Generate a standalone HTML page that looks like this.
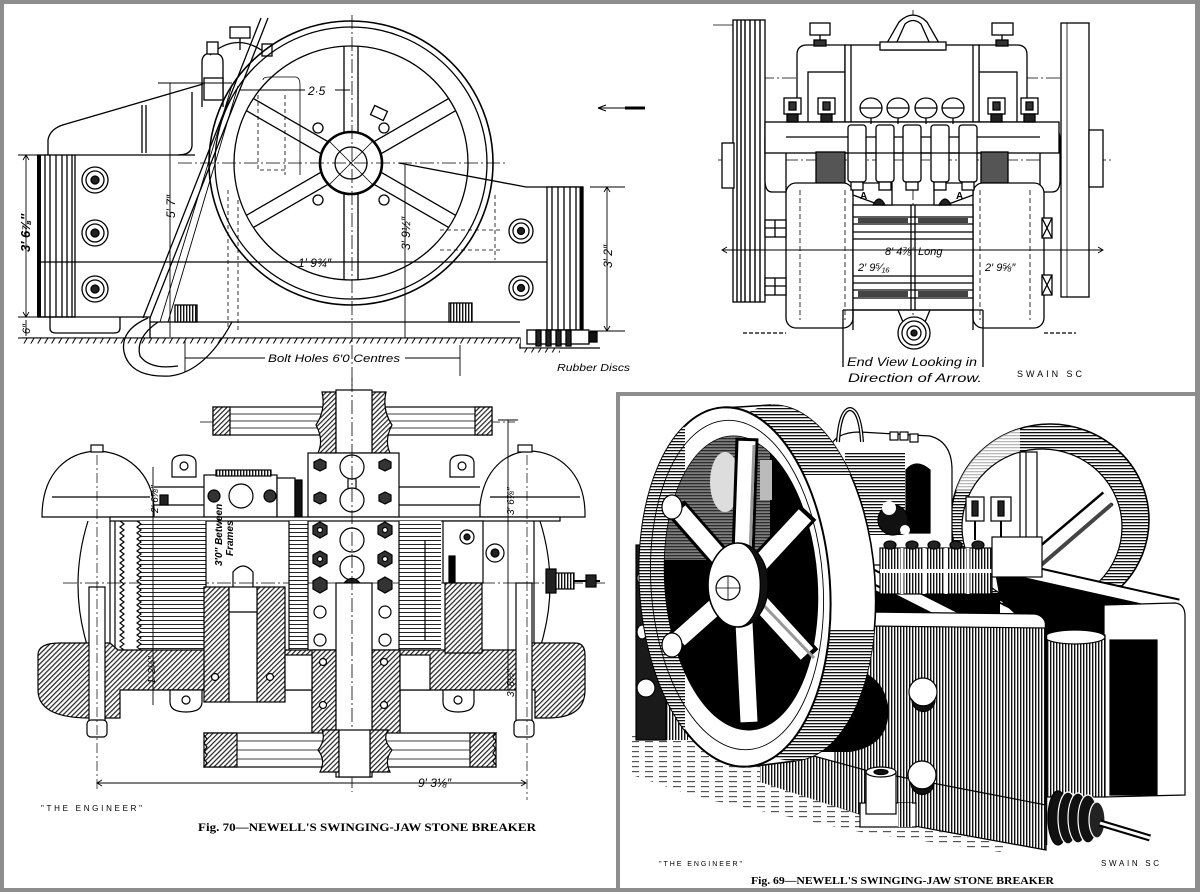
<!DOCTYPE html>
<html><head><meta charset="utf-8"><style>
html,body{margin:0;padding:0;background:#fff}
svg{display:block}
text{font-family:"Liberation Sans",sans-serif;fill:#000;stroke:none}
.it{font-style:italic}
.cap{font-family:"Liberation Serif",serif;font-weight:bold}
.cl{stroke-dasharray:14 3 2 3;stroke-width:0.8;fill:none}
</style></head><body>
<svg width="1200" height="892" viewBox="0 0 1200 892" xmlns="http://www.w3.org/2000/svg">
<defs>
<pattern id="hd" width="3.5" height="3.5" patternUnits="userSpaceOnUse" patternTransform="rotate(45)"><rect width="3.5" height="3.5" fill="#fff"/><rect width="1.2" height="3.5" fill="#222"/></pattern>
<pattern id="vl" width="3" height="10" patternUnits="userSpaceOnUse"><rect width="3" height="10" fill="#fff"/><rect width="1.4" height="10" fill="#111"/></pattern>
<pattern id="hl" width="10" height="3" patternUnits="userSpaceOnUse"><rect width="10" height="3" fill="#fff"/><rect width="10" height="1.3" fill="#111"/></pattern>
<pattern id="hl4" width="10" height="4" patternUnits="userSpaceOnUse"><rect width="10" height="4" fill="#fff"/><rect width="10" height="1" fill="#222"/></pattern>
<pattern id="gr" width="14" height="5" patternUnits="userSpaceOnUse"><rect width="14" height="5" fill="#fff"/><rect x="1" y="1" width="8" height="1.2" fill="#555"/></pattern>
<pattern id="gh" width="6" height="6" patternUnits="userSpaceOnUse" patternTransform="rotate(30)"><rect width="6" height="6" fill="#fff"/><rect width="1" height="6" fill="#000"/></pattern>
<clipPath id="backE"><ellipse cx="783" cy="583" rx="92" ry="178" transform="rotate(-4 783 583)"/></clipPath>
<clipPath id="frontE"><ellipse cx="735" cy="587" rx="95" ry="180" transform="rotate(-4 735 587)"/></clipPath>
<clipPath id="innerE"><ellipse cx="741" cy="583" rx="76" ry="147" transform="rotate(-4 741 583)"/></clipPath>
<clipPath id="backW"><ellipse cx="1050" cy="520" rx="99" ry="96"/></clipPath>
</defs>

<!-- frame / borders -->
<rect width="1200" height="892" fill="#8d8d8d"/>
<rect x="4" y="4" width="1191" height="884" fill="#fff"/>
<rect x="616" y="392" width="4" height="496" fill="#8d8d8d"/>
<rect x="616" y="392" width="580" height="4" fill="#8d8d8d"/>

<!-- ================= TOP LEFT: side elevation ================= -->
<g fill="none" stroke="#000" stroke-width="1.3">
  <rect x="38" y="155" width="37" height="162" fill="#fff"/>
  <path d="M39,155 V317" stroke-width="4"/>
  <path d="M45,155V317M50,155V317M56,155V317M62,155V317M67,155V317M72,155V317"/>
  <path d="M75,155 H195"/>
  <path d="M48,155 V140 Q50,128 66,124 L203,84"/>
  <path d="M192,92 V146 Q191,155 178,155"/>
  <path d="M142,105 V153 M146,105V153"/>
  <path d="M38,262 H583"/>
  <path d="M38,317 H150 V338"/>
  <path d="M150,322 H520"/>
  <path d="M399,163 L526,187 H583"/>
  <rect x="547" y="187" width="36" height="143" fill="#fff"/>
  <path d="M552,187V330M558,187V330M564,187V330M570,187V330M576,187V330"/>
  <path d="M581,187V330" stroke-width="3"/>
  <path d="M50,317 V328 Q50,333 56,333 H114 Q120,333 120,328 V317"/>
  <path d="M22,338 H520 V348 H600"/>
  <rect x="22" y="338.5" width="498" height="5" fill="url(#gh)" stroke="none"/>
  <rect x="520" y="348.5" width="40" height="4" fill="url(#gh)" stroke="none"/>
  <rect x="175" y="305" width="22" height="17" fill="url(#vl)"/>
  <rect x="449" y="303" width="23" height="19" fill="url(#vl)"/>
  <rect x="527" y="330" width="62" height="14" fill="#fff"/>
  <rect x="536" y="330" width="5" height="16" fill="#222"/>
  <rect x="546" y="330" width="5" height="16" fill="#222"/>
  <rect x="556" y="330" width="5" height="16" fill="#222"/>
  <rect x="566" y="330" width="5" height="16" fill="#222"/>
  <rect x="589" y="332" width="8" height="10" fill="#111"/>
  <g fill="#fff">
    <circle cx="95" cy="180" r="13"/><circle cx="95" cy="180" r="9"/><circle cx="95" cy="180" r="4" fill="#222"/>
    <circle cx="95" cy="233" r="13"/><circle cx="95" cy="233" r="9"/><circle cx="95" cy="233" r="4" fill="#222"/>
    <circle cx="95" cy="289" r="13"/><circle cx="95" cy="289" r="9"/><circle cx="95" cy="289" r="4" fill="#222"/>
    <circle cx="521" cy="231" r="12"/><circle cx="521" cy="231" r="8"/><circle cx="521" cy="231" r="3.5" fill="#222"/>
    <circle cx="521" cy="288" r="12"/><circle cx="521" cy="288" r="8"/><circle cx="521" cy="288" r="3.5" fill="#222"/>
  </g>
  <!-- top bearing -->
  <path d="M202,107 V62 Q202,53 212,53 Q223,53 223,62 V107"/>
  <rect x="204" y="78" width="19" height="22" fill="#fff"/>
  <path d="M210,55 Q238,30 268,55"/>
  <rect x="230" y="27" width="20" height="11" fill="#fff"/>
  <path d="M240,38 V50"/>
  <rect x="207" y="42" width="11" height="12" fill="#fff"/>
  <rect x="262" y="44" width="10" height="12" fill="#fff"/>
  <!-- lever -->
  <path d="M268,18 L150,318 M261,18 L143,318"/>
  <path d="M232,85 L160,322 M238,86 L168,322" stroke-width="0.9"/>
  <path d="M148,318 Q120,330 124,352 Q130,378 170,376 Q205,372 232,322"/>
  <path d="M158,322 Q135,338 140,356 Q150,370 178,366"/>
  <!-- flywheel -->
  <circle cx="351" cy="163" r="142" stroke-width="1.6"/>
  <circle cx="351" cy="163" r="136"/>
  <circle cx="351" cy="163" r="117"/>
  <g>
    <g transform="rotate(90 351 163)"><path d="M382,156H468M382,170H468"/></g>
    <g transform="rotate(270 351 163)"><path d="M382,156H468M382,170H468"/></g>
    <g transform="rotate(30 351 163)"><path d="M382,156H468M382,170H468"/></g>
    <g transform="rotate(150 351 163)"><path d="M382,156H468M382,170H468"/></g>
    <g transform="rotate(210 351 163)"><path d="M382,156H468M382,170H468"/></g>
    <g transform="rotate(330 351 163)"><path d="M382,156H468M382,170H468"/></g>
  </g>
  <circle cx="351" cy="163" r="31" stroke-width="2.6" fill="#fff"/>
  <circle cx="351" cy="163" r="16"/>
  <path d="M330,142 L372,184 M372,142 L330,184" stroke-width="0.8"/>
  <circle cx="318" cy="128" r="5" fill="#fff"/><circle cx="384" cy="128" r="5" fill="#fff"/>
  <circle cx="318" cy="200" r="5" fill="#fff"/><circle cx="384" cy="200" r="5" fill="#fff"/>
  <rect x="372" y="108" width="14" height="10" transform="rotate(25 379 113)" fill="#fff"/>
  <line class="cl" x1="352" y1="15" x2="352" y2="397"/>
  <line class="cl" x1="178" y1="163" x2="508" y2="163"/>
  <path d="M228,190V330M238,200V330M285,95V175M258,95V170H285" stroke-dasharray="4 3" stroke-width="0.8"/>
  <path d="M263,80 Q263,77 270,77 H295 Q300,77 300,85 V175" stroke-width="0.8"/>
  <path d="M440,230H500M440,250H500M495,195V260" stroke-dasharray="4 3" stroke-width="0.8"/>
  <path d="M18,155H42M18,317H42M18,338H30M26,155V317M26,320V336" stroke-width="0.9"/>
  <path d="M23,160L26,155L29,160M23,312L26,317L29,312" stroke-width="0.9"/>
  <path d="M590,187H625M590,331H625M607,187V331" stroke-width="0.9"/>
  <path d="M604,192L607,187L610,192M604,326L607,331L610,326" stroke-width="0.9"/>
  <path d="M158,83H232M170,83V337" stroke-width="0.9"/>
  <path d="M405,165V338" stroke-width="0.9"/>
  <path d="M185,340V372M460,345V376M185,358H265M405,358H460" stroke-width="0.9"/>
  <path d="M240,90H305M335,90H350" stroke-width="0.9"/>
  <path d="M598,108H645" stroke-width="1"/>
  <path d="M625,108H645" stroke-width="3"/>
  <path d="M598,108L606,105M598,108L606,111" stroke-width="1"/>
</g>
<g>
  <text x="308" y="95" font-size="12" class="it">2·5</text>
  <text transform="translate(175,218) rotate(-90)" font-size="12" class="it">5′ 7″</text>
  <text transform="translate(30,252) rotate(-90)" font-size="13" class="it" font-weight="bold">3′ 6⅞″</text>
  <text transform="translate(30,334) rotate(-90)" font-size="11" class="it">6″</text>
  <text transform="translate(410,250) rotate(-90)" font-size="12" class="it">3′ 9½″</text>
  <text x="298" y="267" font-size="12" class="it">1′ 9¾″</text>
  <text transform="translate(612,268) rotate(-90)" font-size="12" class="it">3′ 2″</text>
  <text x="268" y="362" font-size="11" class="it" textLength="132" lengthAdjust="spacingAndGlyphs">Bolt Holes 6′0 Centres</text>
  <text x="557" y="371" font-size="10" class="it" textLength="73" lengthAdjust="spacingAndGlyphs">Rubber Discs</text>
</g>

<!-- ================= TOP RIGHT: end view ================= -->
<g fill="#fff" stroke="#000" stroke-width="1.3">
  <line class="cl" x1="913" y1="10" x2="913" y2="345"/>
  <line class="cl" x1="718" y1="160" x2="1112" y2="160"/>
  <line class="cl" x1="760" y1="78" x2="1090" y2="78"/>
  <path d="M713,25H734" stroke-width="0.8"/>
  <rect x="733" y="20" width="32" height="282"/>
  <path d="M737,20V302M741,20V302M745,20V302M750,20V302M755,20V302M760,20V302" stroke-width="1.4" fill="none"/>
  <rect x="1061" y="23" width="28" height="274"/>
  <path d="M1067,23V297" fill="none" stroke-width="0.8"/>
  <rect x="722" y="143" width="12" height="45"/>
  <rect x="1089" y="130" width="14" height="57"/>
  <path d="M786,128 H772 Q765,128 765,140 V180 Q765,192 772,192 H786 Z"/>
  <path d="M1040,128 H1052 Q1060,128 1060,140 V180 Q1060,192 1052,192 H1040 Z"/>
  <path d="M797,122 V55 Q797,45 807,45 H845 V122 Z"/>
  <rect x="808" y="72" width="37" height="50"/>
  <path d="M1027,122 V55 Q1027,45 1017,45 H979 V122 Z"/>
  <rect x="979" y="72" width="38" height="50"/>
  <rect x="845" y="45" width="134" height="77"/>
  <path d="M851,45V122M973,45V122" fill="none"/>
  <path d="M883,50 L899,22 Q913,8 927,22 L943,50 Z"/>
  <path d="M896,44 L905,24 Q913,17 921,24 L930,44 Z"/>
  <rect x="880" y="42" width="66" height="8"/>
  <rect x="810" y="23" width="20" height="12"/><path d="M820,35V45" fill="none"/>
  <rect x="992" y="23" width="21" height="12"/><path d="M1002,35V45" fill="none"/>
  <rect x="814" y="40" width="12" height="6" fill="#333"/>
  <rect x="996" y="40" width="12" height="6" fill="#333"/>
  <rect x="765" y="122" width="294" height="31"/>
  <path d="M786,137H1040" fill="none"/>
  <rect x="816" y="152" width="29" height="31" fill="#555"/>
  <rect x="981" y="152" width="27" height="31" fill="#555"/>
  <rect x="786" y="183" width="67" height="145" rx="10"/>
  <rect x="973" y="183" width="71" height="145" rx="10"/>
  <path d="M800,190V320M845,190V320M980,190V320M1030,190V320" stroke-dasharray="5 3" stroke-width="0.8" fill="none"/>
  <rect x="853" y="205" width="120" height="105"/>
  <path d="M853,217H973M853,224H973M853,232H973M853,239H973M853,276H973M853,283H973M853,290H973M853,298H973" fill="none"/>
  <rect x="858" y="218" width="50" height="5" fill="#444" stroke="none"/>
  <rect x="918" y="218" width="50" height="5" fill="#444" stroke="none"/>
  <rect x="858" y="291" width="50" height="6" fill="#444" stroke="none"/>
  <rect x="918" y="291" width="50" height="6" fill="#444" stroke="none"/>
  <path d="M911,205V310M915,205V310" fill="none"/>
  <path d="M853,183 V195 L880,205 H892 V183 Z"/>
  <path d="M973,183 V195 L946,205 H934 V183 Z"/>
  <path d="M873,205 Q879,193 885,205 Z" fill="#222"/>
  <path d="M939,205 Q945,193 951,205 Z" fill="#222"/>
  <g>
    <rect x="848" y="125" width="18" height="57" rx="3"/><rect x="851" y="182" width="12" height="8"/>
    <rect x="876" y="125" width="18" height="57" rx="3"/><rect x="879" y="182" width="12" height="8"/>
    <rect x="903" y="125" width="18" height="57" rx="3"/><rect x="906" y="182" width="12" height="8"/>
    <rect x="931" y="125" width="18" height="57" rx="3"/><rect x="934" y="182" width="12" height="8"/>
    <rect x="959" y="125" width="18" height="57" rx="3"/><rect x="962" y="182" width="12" height="8"/>
    <path d="M845,153H980" fill="none"/>
  </g>
  <ellipse cx="871" cy="108" rx="11" ry="10"/><path d="M860,108H882M871,118V124" fill="none"/>
  <ellipse cx="898" cy="108" rx="11" ry="10"/><path d="M887,108H909M898,118V124" fill="none"/>
  <ellipse cx="926" cy="108" rx="11" ry="10"/><path d="M915,108H937M926,118V124" fill="none"/>
  <ellipse cx="953" cy="108" rx="11" ry="10"/><path d="M942,108H964M953,118V124" fill="none"/>
  <rect x="784" y="98" width="17" height="16"/><rect x="789" y="102" width="7" height="8" fill="#333"/><rect x="787" y="114" width="11" height="8" fill="#222"/>
  <rect x="818" y="98" width="17" height="16"/><rect x="823" y="102" width="7" height="8" fill="#333"/><rect x="821" y="114" width="11" height="8" fill="#222"/>
  <rect x="988" y="98" width="17" height="16"/><rect x="993" y="102" width="7" height="8" fill="#333"/><rect x="991" y="114" width="11" height="8" fill="#222"/>
  <rect x="1021" y="98" width="17" height="16"/><rect x="1026" y="102" width="7" height="8" fill="#333"/><rect x="1024" y="114" width="11" height="8" fill="#222"/>
  <rect x="765" y="220" width="21" height="17"/><path d="M765,228H786M775,220V237" fill="none"/>
  <rect x="765" y="278" width="21" height="17"/><path d="M765,286H786M775,278V295" fill="none"/>
  <rect x="1042" y="218" width="10" height="20"/><path d="M1042,218L1052,238M1052,218L1042,238" fill="none"/>
  <rect x="1042" y="275" width="10" height="20"/><path d="M1042,275L1052,295M1052,275L1042,295" fill="none"/>
  <path d="M743,333H786M1044,333H1076" fill="none" stroke-dasharray="4 2"/>
  <path d="M853,310V330M973,310V330M843,310V367M983,310V367M843,310H983" fill="none"/>
  <path d="M898,310 L903,322 M930,310 L925,322" fill="none"/>
  <circle cx="914" cy="333" r="16"/><circle cx="914" cy="333" r="12"/><circle cx="914" cy="333" r="7"/><circle cx="914" cy="333" r="3" fill="#222"/>
  <path d="M722,250H1103" fill="none" stroke-width="0.9"/>
  <path d="M727,247L722,250L727,253M1098,247L1103,250L1098,253" fill="none" stroke-width="0.9"/>
</g>
<g>
  <text x="860" y="199" font-size="10" font-weight="bold">A</text>
  <text x="956" y="199" font-size="10" font-weight="bold">A</text>
  <text x="885" y="255" font-size="11" class="it">8′ 4⅞″</text>
  <text x="918" y="255" font-size="11" class="it">Long</text>
  <text x="858" y="271" font-size="11" class="it">2′ 9⁵⁄₁₆</text>
  <text x="985" y="271" font-size="11" class="it">2′ 9⅝″</text>
  <text x="847" y="366" font-size="12" class="it" textLength="130" lengthAdjust="spacingAndGlyphs">End View Looking in</text>
  <text x="848" y="382" font-size="12" class="it" textLength="134" lengthAdjust="spacingAndGlyphs">Direction of Arrow.</text>
  <text x="1017" y="377" font-size="9" textLength="65" lengthAdjust="spacing">SWAIN  SC</text>
</g>

<!-- ================= BOTTOM LEFT: plan ================= -->
<g stroke="#000" stroke-width="1.2" fill="#fff">
  <line class="cl" x1="63" y1="583" x2="608" y2="583"/>
  <line class="cl" x1="200" y1="422" x2="515" y2="422"/>
  <rect x="213" y="407" width="279" height="28"/>
  <path d="M230,414H475M230,421H475M230,428H475" fill="none" stroke-width="0.8"/>
  <rect x="213" y="407" width="17" height="28" fill="url(#hd)"/>
  <rect x="475" y="407" width="17" height="28" fill="url(#hd)"/>
  <path d="M322,392 L336,392 L336,453 L318,453 Q324,440 316,425 Q326,410 322,392 Z" fill="url(#hd)"/>
  <path d="M372,392 L386,392 Q382,410 392,425 Q384,440 390,453 L372,453 Z" fill="url(#hd)"/>
  <rect x="336" y="390" width="36" height="63"/>
  <path d="M42,517 C42,472 68,452 97,451 C126,452 152,472 154,508 L154,517 Z"/>
  <path d="M52,497H150" fill="none"/>
  <path d="M480,517 L480,505 C484,470 505,452 530,451 C558,452 584,472 585,512 L585,517 Z"/>
  <path d="M490,497H580" fill="none"/>
  <rect x="91" y="445" width="12" height="7"/><rect x="518" y="445" width="14" height="7"/>
  <path d="M172,477 V463 Q172,455 184,455 Q196,455 196,463 V477 Z"/><circle cx="184" cy="466" r="4"/>
  <path d="M450,477 V463 Q450,455 462,455 Q474,455 474,463 V477 Z"/><circle cx="462" cy="466" r="4"/>
  <path d="M154,487H205M399,487H480M154,505H205M399,505H480" fill="none"/>
  <rect x="160" y="495" width="8" height="10" fill="#222"/>
  <rect x="308" y="453" width="91" height="64"/>
  <circle cx="352" cy="467" r="12"/><circle cx="352" cy="500" r="12"/>
  <path d="M348,479V488M356,479V488" fill="none"/>
  <polygon points="320,459 326,462 326,468 320,471 314,468 314,462" fill="#333"/>
  <polygon points="385,459 391,462 391,468 385,471 379,468 379,462" fill="#333"/>
  <polygon points="320,492 326,495 326,501 320,504 314,501 314,495" fill="#333"/>
  <polygon points="385,492 391,495 391,501 385,504 379,501 379,495" fill="#333"/>
  <rect x="204" y="475" width="73" height="42"/>
  <circle cx="241" cy="496" r="12"/>
  <circle cx="214" cy="496" r="6" fill="#333"/><circle cx="270" cy="496" r="6" fill="#333"/>
  <rect x="277" y="478" width="18" height="39"/>
  <rect x="295" y="480" width="7" height="37" fill="#111"/>
  <rect x="216" y="470" width="55" height="6" fill="url(#vl)"/>
  <rect x="110" y="517" width="450" height="4"/>
  <path d="M88,521 Q68,585 88,648" fill="none"/>
  <path d="M540,521 Q560,585 540,648" fill="none"/>
  <path d="M110,521V650M115,521V650M534,521V650" fill="none"/>
  <rect x="140" y="521" width="66" height="130" fill="url(#hl4)" stroke="none"/>
  <path d="M120,521 l4,3 l-4,3 l4,3 l-4,3 l4,3 l-4,3 l4,3 l-4,3 l4,3 l-4,3 l4,3 l-4,3 l4,3 l-4,3 l4,3 l-4,3 l4,3 l-4,3 l4,3 l-4,3 l4,3 l-4,3 l4,3 l-4,3 l4,3 l-4,3 l4,3 l-4,3 l4,3 l-4,3 l4,3 l-4,3 l4,3 l-4,3 l4,3 l-4,3 l4,3 l-4,3 l4,3 l-4,3 l4,3 l-4,3 l4,3 l-4,3" fill="none"/>
  <path d="M137,521 l4,3 l-4,3 l4,3 l-4,3 l4,3 l-4,3 l4,3 l-4,3 l4,3 l-4,3 l4,3 l-4,3 l4,3 l-4,3 l4,3 l-4,3 l4,3 l-4,3 l4,3 l-4,3 l4,3 l-4,3 l4,3 l-4,3 l4,3 l-4,3 l4,3 l-4,3 l4,3 l-4,3 l4,3 l-4,3 l4,3 l-4,3 l4,3 l-4,3 l4,3 l-4,3 l4,3 l-4,3 l4,3 l-4,3 l4,3 l-4,3" fill="none"/>
  <rect x="289" y="521" width="19" height="130" fill="url(#hl4)" stroke="none"/>
  <rect x="399" y="521" width="42" height="130" fill="url(#hl4)" stroke="none"/>
  <path d="M206,521V587M289,521V650M308,521V650M399,521V650" fill="none"/>
  <path d="M425,540V640" fill="none"/>
  <polygon points="320,522 327,526 327,534 320,538 313,534 313,526" fill="#333"/>
  <polygon points="320,551 327,555 327,563 320,567 313,563 313,555" fill="#333"/>
  <polygon points="320,577 327,581 327,589 320,593 313,589 313,581" fill="#333"/>
  <polygon points="385,522 392,526 392,534 385,538 378,534 378,526" fill="#333"/>
  <polygon points="385,551 392,555 392,563 385,567 378,563 378,555" fill="#333"/>
  <polygon points="385,577 392,581 392,589 385,593 378,589 378,581" fill="#333"/>
  <circle cx="320" cy="530" r="2.5"/><circle cx="320" cy="559" r="2.5"/><circle cx="385" cy="530" r="2.5"/><circle cx="385" cy="559" r="2.5"/>
  <circle cx="320" cy="612" r="6"/><circle cx="320" cy="640" r="6"/>
  <circle cx="385" cy="612" r="6"/><circle cx="385" cy="640" r="6"/>
  <circle cx="352" cy="540" r="12"/><circle cx="352" cy="568" r="12"/>
  <path d="M344,583 Q352,574 360,583 Z" fill="#222"/>
  <rect x="443" y="521" width="40" height="62"/>
  <circle cx="467" cy="537" r="7"/><circle cx="467" cy="537" r="3" fill="#222"/>
  <circle cx="495" cy="553" r="9"/><circle cx="495" cy="553" r="4" fill="#222"/>
  <rect x="449" y="556" width="6" height="27" fill="#000"/>
  <path d="M233,587 V572 Q243,560 253,572 V587" fill="none"/>
  <rect x="546" y="569" width="10" height="24" fill="#222"/>
  <rect x="556" y="573" width="18" height="16" fill="url(#vl)"/>
  <path d="M574,581H600" fill="none" stroke-width="2"/>
  <rect x="586" y="575" width="10" height="12" fill="#222"/>
  <path d="M38,655 Q38,643 60,643 L110,643 L118,650 L525,650 L530,643 L575,643 Q585,643 585,655 L585,690 Q585,718 548,718 L535,718 L535,690 L400,690 L400,737 L312,737 L312,690 L120,690 L120,718 L90,718 Q38,718 38,690 Z" fill="url(#hd)"/>
  <rect x="204" y="587" width="25" height="115" fill="url(#hd)"/>
  <rect x="257" y="587" width="28" height="115" fill="url(#hd)"/>
  <rect x="445" y="583" width="37" height="70" fill="url(#hd)"/>
  <rect x="312" y="650" width="24" height="87" fill="url(#hd)"/>
  <rect x="372" y="650" width="28" height="87" fill="url(#hd)"/>
  <rect x="285" y="655" width="27" height="35"/>
  <rect x="400" y="655" width="30" height="35"/>
  <path d="M170,690 V702 Q170,712 186,712 Q202,712 202,702 V690 Z"/><circle cx="186" cy="700" r="4"/>
  <path d="M443,690 V702 Q443,712 458,712 Q474,712 474,702 V690 Z"/><circle cx="458" cy="700" r="4"/>
  <circle cx="215" cy="677" r="3.5"/><circle cx="270" cy="677" r="3.5"/>
  <circle cx="323" cy="662" r="3.5"/><circle cx="323" cy="705" r="3.5"/>
  <circle cx="384" cy="662" r="3.5"/><circle cx="384" cy="705" r="3.5"/>
  <rect x="229" y="587" width="28" height="115"/>
  <path d="M229,612H257" fill="none"/>
  <rect x="336" y="583" width="36" height="194"/>
  <rect x="89" y="587" width="16" height="136"/>
  <rect x="87" y="720" width="20" height="17" rx="4"/>
  <rect x="516" y="583" width="16" height="140"/>
  <rect x="514" y="720" width="20" height="17" rx="4"/>
  <path d="M97,455V790M527,455V800" fill="none" stroke-width="0.7" stroke-dasharray="10 3 2 3"/>
  <line class="cl" x1="352" y1="378" x2="352" y2="792"/>
  <rect x="204" y="733" width="292" height="34"/>
  <path d="M237,741H470M237,750H470M237,759H470" fill="none" stroke-width="0.8"/>
  <path d="M204,733 H237 V767 H204 l3,-4 l-3,-4 l3,-4 l-3,-4 l3,-4 l-3,-4 l3,-4 l-3,-4 Z" fill="url(#hd)"/>
  <path d="M470,733 H496 l-3,4 l3,4 l-3,4 l3,4 l-3,4 l3,4 l-3,4 l3,4 V767 H470 Z" fill="url(#hd)"/>
  <path d="M322,730 L339,730 L339,772 L320,772 Q326,760 318,750 Q326,740 322,730 Z" fill="url(#hd)"/>
  <path d="M370,730 L388,730 Q382,740 392,750 Q384,760 390,772 L370,772 Z" fill="url(#hd)"/>
  <rect x="339" y="730" width="31" height="47"/>
  <path d="M97,783H526M153,467V705M508,420V690M498,420H518" fill="none" stroke-width="0.9"/>
  <path d="M102,780L97,783L102,786M521,780L526,783L521,786" fill="none" stroke-width="0.9"/>
</g>
<g>
  <text transform="translate(222,566) rotate(-90)" font-size="10" class="it" font-weight="bold">3′0″ Between</text>
  <text transform="translate(233,556) rotate(-90)" font-size="10" class="it" font-weight="bold">Frames</text>
  <text transform="translate(158,513) rotate(-90)" font-size="10" class="it">2′ 6⅞″</text>
  <text transform="translate(155,684) rotate(-90)" font-size="10" class="it">1′ 2½″</text>
  <text transform="translate(514,515) rotate(-90)" font-size="10" class="it">3′ 6⅞″</text>
  <text transform="translate(514,697) rotate(-90)" font-size="10" class="it">3′ 8½″</text>
  <text x="418" y="787" font-size="12" class="it">9′ 3⅛″</text>
  <text x="41" y="811" font-size="8" textLength="101" lengthAdjust="spacing">"THE ENGINEER"</text>
  <text x="198" y="831" font-size="12" class="cap" textLength="338" lengthAdjust="spacingAndGlyphs">Fig. 70—NEWELL'S SWINGING-JAW STONE BREAKER</text>
</g>

<!-- ================= BOTTOM RIGHT: perspective ================= -->
<g stroke="#000" stroke-width="1.2">
  <!-- back flywheel -->
  <ellipse cx="1050" cy="520" rx="99" ry="96" fill="url(#hl)" stroke-width="1.6"/>
  <rect x="940" y="420" width="80" height="70" fill="#fff" clip-path="url(#backW)" stroke="none" opacity="0.7"/>
  <ellipse cx="1042" cy="527" rx="80" ry="78" fill="#fff"/>
  <rect x="1020" y="452" width="17" height="90" fill="#fff"/>
  <path d="M1026,452V542" fill="none"/>
  <path d="M1035,560 L1108,498" stroke="#000" stroke-width="17" fill="none"/>
  <path d="M1035,560 L1108,498" stroke="#fff" stroke-width="12" fill="none"/>
  <path d="M1040,566 L1112,504" stroke="#444" stroke-width="4" fill="none"/>
  <!-- housing -->
  <path d="M830,448 Q835,432 860,432 L930,436 Q952,442 952,470 L952,565 L830,565 Z" fill="#fff"/>
  <rect x="845" y="452" width="60" height="83" fill="url(#hl)" stroke="none"/>
  <path d="M906,470 Q916,458 930,470 L930,533 L906,533 Z" fill="#000"/>
  <path d="M838,442 Q840,410 850,409 Q860,410 862,442" fill="none" stroke-width="4"/>
  <path d="M838,442 Q840,410 850,409 Q860,410 862,442" fill="none" stroke="#fff" stroke-width="1.5"/>
  <rect x="890" y="432" width="8" height="8" fill="#fff"/><rect x="900" y="432" width="8" height="8" fill="#fff"/><rect x="910" y="434" width="8" height="8" fill="#fff"/>
  <circle cx="893" cy="520" r="15" fill="#111"/>
  <circle cx="889" cy="508" r="7" fill="#fff" stroke="none"/>
  <circle cx="905" cy="530" r="5" fill="#fff" stroke="none"/>
  <!-- dark under arms -->
  <path d="M862,585 L955,622 L862,625 Z" fill="#000" stroke="none"/>
  <path d="M880,593 L1000,593 L1000,618 L930,618 Z" fill="#000" stroke="none"/>
  <path d="M995,572 L1160,608 L1160,642 L1045,642 L1000,600 Z" fill="#000" stroke="none"/>
  <!-- arms -->
  <path d="M870,575 L955,618" stroke="#000" stroke-width="15" fill="none"/>
  <path d="M870,575 L955,618" stroke="#fff" stroke-width="11" fill="none"/>
  <path d="M995,565 L1178,606" stroke="#000" stroke-width="15" fill="none"/>
  <path d="M995,565 L1178,606" stroke="#fff" stroke-width="11" fill="none"/>
  <!-- right frame end -->
  <path d="M1104,605 L1175,603 Q1185,604 1185,616 L1185,795 L1104,797 Z" fill="#fff"/>
  <rect x="1110" y="640" width="47" height="155" fill="#000"/>
  <!-- rear block -->
  <rect x="1045" y="635" width="60" height="162" fill="url(#vl)"/>
  <ellipse cx="1075" cy="637" rx="30" ry="7" fill="#fff"/>
  <!-- cylinder row -->
  <rect x="880" y="548" width="112" height="46" fill="url(#vl)"/>
  <path d="M880,571H992" stroke="#fff" stroke-width="4" fill="none"/>
  <path d="M902,548V594M924,548V594M946,548V594M968,548V594" stroke="#fff" stroke-width="3" fill="none"/>
  <g fill="#222">
    <ellipse cx="890" cy="545" rx="6" ry="4"/><ellipse cx="912" cy="545" rx="6" ry="4"/><ellipse cx="934" cy="545" rx="6" ry="4"/><ellipse cx="956" cy="545" rx="6" ry="4"/><ellipse cx="978" cy="545" rx="6" ry="4"/>
  </g>
  <rect x="966" y="497" width="18" height="24" fill="#fff"/><rect x="972" y="501" width="6" height="15" fill="#222"/>
  <path d="M975,521V540" stroke-width="2"/>
  <rect x="991" y="497" width="20" height="24" fill="#fff"/><rect x="998" y="501" width="6" height="15" fill="#222"/>
  <path d="M1001,521V540" stroke-width="2"/>
  <rect x="992" y="537" width="50" height="40" fill="#fff"/>
  <!-- front block -->
  <path d="M835,620 L1040,622 Q1046,622 1046,632 L1046,845 L920,810 L835,800 Z" fill="url(#vl)"/>
  <path d="M868,612 L1035,614 Q1046,616 1046,628 L868,626 Z" fill="#fff"/>
  <path d="M1046,622V845" stroke-width="2.5"/>
  <!-- base plinth -->
  <path d="M755,740 L865,770 L1046,805 L1046,850 L870,818 L755,782 Z" fill="url(#vl)"/>
  <!-- ground hatch -->
  <path d="M632,735 L760,735 L760,782 L870,818 L1010,845 L1000,852 L860,832 L700,798 L632,775 Z" fill="url(#gr)" stroke="none"/>
  <!-- cave -->
  <path d="M815,668 Q880,660 888,705 Q892,745 850,752 L790,752 Z" fill="#000" stroke="none"/>
  <!-- front bolts -->
  <circle cx="923" cy="692" r="14" fill="#fff"/><path d="M912,700 A14,14 0 0 0 935,700 A10,10 0 0 1 912,700 Z" fill="#111"/>
  <circle cx="922" cy="775" r="14" fill="#fff"/><path d="M911,783 A14,14 0 0 0 934,783 A10,10 0 0 1 911,783 Z" fill="#111"/>
  <!-- bollard -->
  <rect x="860" y="803" width="56" height="24" fill="#fff"/>
  <rect x="866" y="772" width="30" height="42" fill="#fff"/>
  <ellipse cx="881" cy="772" rx="15" ry="5" fill="#fff"/>
  <ellipse cx="881" cy="772" rx="7" ry="2.5" fill="#111"/>
  <rect x="898" y="803" width="14" height="24" fill="url(#vl)" stroke="none"/>
  <!-- pulley -->
  <ellipse cx="1058" cy="818" rx="10" ry="27" fill="#111"/>
  <ellipse cx="1068" cy="818" rx="10" ry="26" fill="#111" stroke="#fff"/>
  <ellipse cx="1078" cy="818" rx="10" ry="25" fill="#111" stroke="#fff"/>
  <ellipse cx="1088" cy="819" rx="10" ry="24" fill="#111" stroke="#fff"/>
  <ellipse cx="1097" cy="820" rx="8" ry="18" fill="#222" stroke="#fff"/>
  <path d="M1100,823 L1150,838" stroke-width="7"/>
  <path d="M1100,823 L1150,838" stroke="#fff" stroke-width="3"/>
  <!-- left body behind wheel -->
  <rect x="636" y="700" width="52" height="40" fill="url(#vl)" stroke="none"/>
  <rect x="636" y="545" width="30" height="195" fill="#1a1a1a"/>
  <ellipse cx="642" cy="578" rx="5" ry="7" fill="#fff"/>
  <ellipse cx="642" cy="632" rx="5" ry="7" fill="#fff"/>
  <ellipse cx="646" cy="688" rx="9" ry="9" fill="#fff"/>
  <!-- front flywheel: tire band -->
  <ellipse cx="783" cy="583" rx="92" ry="178" transform="rotate(-4 783 583)" fill="#fff" stroke-width="1.6"/>
  <polygon points="722,408 771,405 795,761 748,767" fill="#fff" stroke="none"/>
  <g clip-path="url(#backE)">
    <rect x="700" y="400" width="200" height="75" fill="url(#hl)" stroke="none"/>
    <rect x="700" y="630" width="200" height="140" fill="url(#hl)" stroke="none"/>
  </g>
  <path d="M722,408 L771,405 M748,767 L795,761" fill="none" stroke-width="1.6"/>
  <!-- front face -->
  <ellipse cx="735" cy="587" rx="95" ry="180" transform="rotate(-4 735 587)" fill="#fff" stroke-width="2"/>
  <g clip-path="url(#frontE)">
    <rect x="635" y="420" width="50" height="330" fill="url(#hl)" stroke="none"/>
  </g>
  <ellipse cx="737" cy="585" rx="86" ry="165" transform="rotate(-4 737 585)" fill="none" stroke-width="0.9"/>
  <ellipse cx="741" cy="583" rx="76" ry="147" transform="rotate(-4 741 583)" fill="#000" stroke-width="1.5"/>
  <g clip-path="url(#innerE)">
    <rect x="660" y="430" width="110" height="130" fill="#3a3a3a" stroke="none"/>
    <rect x="660" y="430" width="110" height="130" fill="url(#hl)" stroke="none" opacity="0.35"/>
    <ellipse cx="725" cy="482" rx="15" ry="30" fill="#ddd" stroke="none"/>
    <rect x="760" y="460" width="12" height="40" fill="#bbb" stroke="none"/>
  </g>
  <g fill="none" stroke-linecap="butt">
    <path d="M742,583 L747,438 M742,583 L676,508 M742,583 L808,512 M742,583 L676,642 M742,583 L810,657 M742,583 L749,725" stroke="#000" stroke-width="23"/>
    <path d="M742,583 L747,441 M742,583 L679,511 M742,583 L805,515 M742,583 L679,639 M742,583 L807,654 M742,583 L749,722" stroke="#fff" stroke-width="17"/>
    <path d="M749,583 L754,445 M749,590 L814,658" stroke="#999" stroke-width="3"/>
  </g>
  <ellipse cx="672" cy="507" rx="10" ry="12" fill="#fff"/>
  <ellipse cx="672" cy="645" rx="10" ry="12" fill="#fff"/>
  <ellipse cx="738" cy="585" rx="30" ry="42" fill="#fff" stroke-width="1.6"/>
  <path d="M738,543 A30,42 0 0 1 738,627 A18,34 0 0 0 738,543 Z" fill="#111"/>
  <circle cx="728" cy="588" r="12" fill="#fff"/>
  <path d="M716,588 H740 M728,576 V600" stroke-width="0.8"/>
</g>
<g>
  <text x="659" y="866" font-size="7" textLength="83" lengthAdjust="spacing">"THE ENGINEER"</text>
  <text x="1101" y="866" font-size="8" textLength="58" lengthAdjust="spacing">SWAIN  SC</text>
  <text x="751" y="884" font-size="11" class="cap" textLength="303" lengthAdjust="spacingAndGlyphs">Fig. 69—NEWELL'S SWINGING-JAW STONE BREAKER</text>
</g>
</svg>
</body></html>
